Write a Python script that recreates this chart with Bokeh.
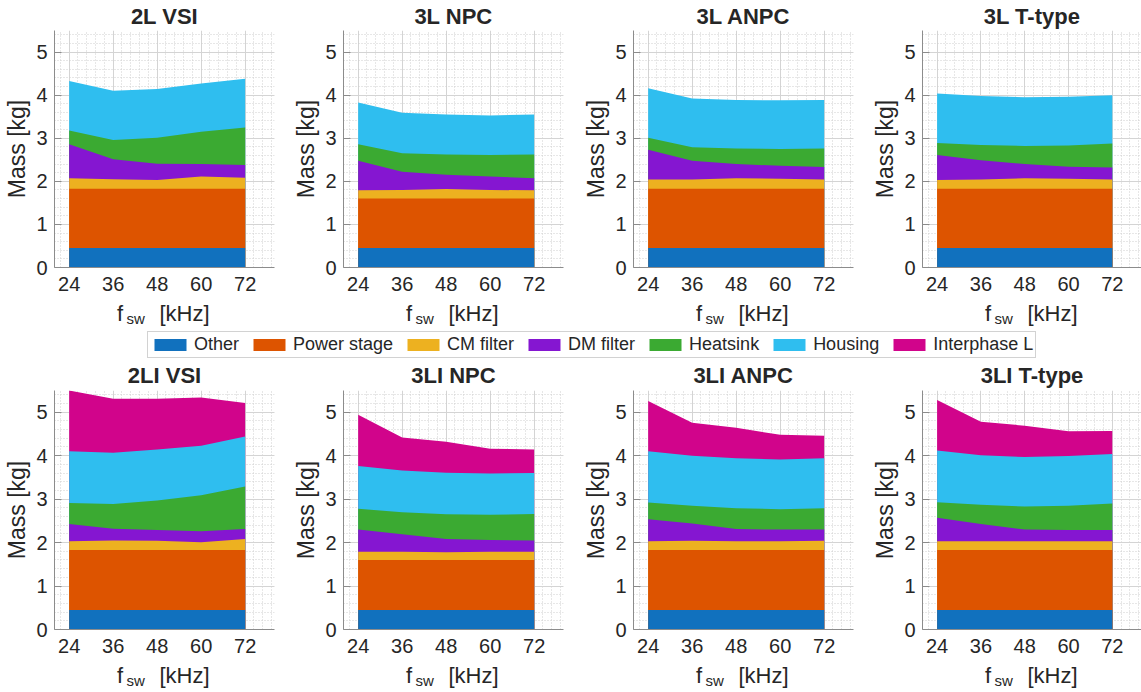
import numpy as np
from bokeh.plotting import figure
from bokeh.layouts import column, row
from bokeh.models import Range1d, FixedTicker, ColumnDataSource, Legend, LegendItem
from bokeh.transform import stack
from bokeh.core.properties import value
from bokeh.embed import file_html
from bokeh.resources import INLINE

# ---------------- data ----------------
fsw = [24, 36, 48, 60, 72]  # kHz
x_ticks = [24, 36, 48, 60, 72]
y_ticks = [0, 1, 2, 3, 4, 5]

keys = ["other", "power", "cm", "dm", "heatsink", "housing", "interphase"]
labels = ["Other", "Power stage", "CM filter", "DM filter", "Heatsink", "Housing", "Interphase L"]
colors = ["#1171BE", "#DD5400", "#EDB120", "#8516D1", "#3BAA32", "#2FBEEF", "#D1048B"]

m_2L_VSI = dict(
    other=[0.45, 0.45, 0.45, 0.45, 0.45],
    power=[1.38, 1.38, 1.38, 1.38, 1.38],
    cm=[0.24, 0.22, 0.20, 0.28, 0.25],
    dm=[0.79, 0.46, 0.38, 0.29, 0.30],
    heatsink=[0.32, 0.45, 0.60, 0.75, 0.87],
    housing=[1.15, 1.14, 1.13, 1.12, 1.13],
)
m_3L_NPC = dict(
    other=[0.45, 0.45, 0.45, 0.45, 0.45],
    power=[1.15, 1.15, 1.15, 1.15, 1.15],
    cm=[0.19, 0.20, 0.22, 0.20, 0.19],
    dm=[0.69, 0.42, 0.33, 0.31, 0.28],
    heatsink=[0.38, 0.43, 0.47, 0.50, 0.55],
    housing=[0.97, 0.94, 0.93, 0.92, 0.93],
)
m_3L_ANPC = dict(
    other=[0.45, 0.45, 0.45, 0.45, 0.45],
    power=[1.38, 1.38, 1.38, 1.38, 1.38],
    cm=[0.21, 0.21, 0.24, 0.23, 0.21],
    dm=[0.69, 0.44, 0.33, 0.30, 0.29],
    heatsink=[0.28, 0.31, 0.36, 0.39, 0.43],
    housing=[1.15, 1.13, 1.13, 1.13, 1.13],
)
m_3L_TT = dict(
    other=[0.45, 0.45, 0.45, 0.45, 0.45],
    power=[1.38, 1.38, 1.38, 1.38, 1.38],
    cm=[0.20, 0.21, 0.24, 0.23, 0.21],
    dm=[0.58, 0.45, 0.33, 0.28, 0.28],
    heatsink=[0.28, 0.35, 0.42, 0.49, 0.56],
    housing=[1.15, 1.14, 1.13, 1.13, 1.12],
)
m_2LI_VSI = dict(
    other=[0.45, 0.45, 0.45, 0.45, 0.45],
    power=[1.38, 1.38, 1.38, 1.38, 1.38],
    cm=[0.20, 0.22, 0.21, 0.18, 0.25],
    dm=[0.40, 0.27, 0.25, 0.25, 0.23],
    heatsink=[0.48, 0.57, 0.68, 0.83, 0.98],
    housing=[1.19, 1.18, 1.17, 1.14, 1.15],
    interphase=[1.40, 1.24, 1.17, 1.11, 0.77],
)
m_3LI_NPC = dict(
    other=[0.45, 0.45, 0.45, 0.45, 0.45],
    power=[1.15, 1.15, 1.15, 1.15, 1.15],
    cm=[0.19, 0.19, 0.18, 0.19, 0.19],
    dm=[0.51, 0.40, 0.30, 0.27, 0.26],
    heatsink=[0.48, 0.51, 0.57, 0.58, 0.61],
    housing=[0.98, 0.96, 0.96, 0.95, 0.94],
    interphase=[1.18, 0.76, 0.71, 0.57, 0.54],
)
m_3LI_ANPC = dict(
    other=[0.45, 0.45, 0.45, 0.45, 0.45],
    power=[1.38, 1.38, 1.38, 1.38, 1.38],
    cm=[0.20, 0.21, 0.20, 0.20, 0.21],
    dm=[0.51, 0.40, 0.28, 0.27, 0.26],
    heatsink=[0.38, 0.41, 0.48, 0.47, 0.49],
    housing=[1.18, 1.15, 1.15, 1.14, 1.15],
    interphase=[1.16, 0.76, 0.70, 0.57, 0.52],
)
m_3LI_TT = dict(
    other=[0.45, 0.45, 0.45, 0.45, 0.45],
    power=[1.38, 1.38, 1.38, 1.38, 1.38],
    cm=[0.20, 0.20, 0.20, 0.20, 0.20],
    dm=[0.54, 0.40, 0.27, 0.26, 0.26],
    heatsink=[0.36, 0.44, 0.53, 0.56, 0.61],
    housing=[1.19, 1.14, 1.14, 1.14, 1.14],
    interphase=[1.16, 0.77, 0.72, 0.57, 0.53],
)

top_titles = ["2L VSI", "3L NPC", "3L ANPC", "3L T-type"]
bot_titles = ["2LI VSI", "3LI NPC", "3LI ANPC", "3LI T-type"]
top_data = [m_2L_VSI, m_3L_NPC, m_3L_ANPC, m_3L_TT]
bot_data = [m_2LI_VSI, m_3LI_NPC, m_3LI_ANPC, m_3LI_TT]

# ---------------- style / layout ----------------
FONT = "Liberation Sans"
TXT = "#262626"
AXC = "#8c8c8c"
W = 1141
frame_widths = [220, 220, 220, 219]
rights = [15, 16, 15, 0]
LEFT = 54
fig_widths = [LEFT + fw + r for fw, r in zip(frame_widths, rights)]
fig_lefts = list(np.cumsum([0] + fig_widths[:-1]))
frame_lefts = [fl + LEFT for fl in fig_lefts]
frame_centers = [fl + fw / 2 for fl, fw in zip(frame_lefts, frame_widths)]
TICK_BORDER = 30
SH = 7  # text glyph baseline correction (px)


def make_panel(data, fw, right, fh):
    w = LEFT + fw + right
    p = figure(width=w, height=fh + TICK_BORDER, x_range=Range1d(20, 80), y_range=Range1d(0, 5.5),
               output_backend="svg", toolbar_location=None, tools="",
               min_border_left=LEFT, min_border_right=right,
               min_border_top=0, min_border_bottom=TICK_BORDER)
    p.outline_line_color = None
    p.background_fill_color = "white"
    p.border_fill_color = "white"

    src = ColumnDataSource(dict(x=fsw, **data))
    names = [k for k in keys if k in data]
    # draw from the top layer down so the stacked layers leave no seams
    for i in reversed(range(len(names))):
        p.varea(x="x", y1=0, y2=stack(*names[: i + 1]), source=src,
                fill_color=colors[keys.index(names[i])], fill_alpha=1.0)

    xt = FixedTicker(ticks=x_ticks, minor_ticks=list(np.round(np.arange(21.6, 80, 2.4), 2)))
    yt = FixedTicker(ticks=y_ticks, minor_ticks=list(np.round(np.arange(0, 5.6, 0.2), 2)))
    p.xaxis.ticker = xt
    p.yaxis.ticker = yt
    p.xgrid.ticker = xt
    p.ygrid.ticker = yt

    for g in (p.xgrid, p.ygrid):
        g.grid_line_color = "#d4d4d4"
        g.grid_line_width = 1
        g.minor_grid_line_color = "#cfcfcf"
        g.minor_grid_line_dash = "1 2"
        g.minor_grid_line_width = 1

    for ax in (p.xaxis, p.yaxis):
        ax.axis_line_color = AXC
        ax.major_tick_line_color = AXC
        ax.major_tick_out = 0
        ax.minor_tick_in = 0
        ax.minor_tick_out = 0
        ax.major_label_text_font = FONT
        ax.major_label_text_font_size = "20px"
        ax.major_label_text_color = TXT
    p.xaxis.major_label_standoff = 9
    p.yaxis.major_label_standoff = 7
    p.xaxis.major_tick_in = 0
    p.yaxis.major_tick_in = 7

    p.yaxis.axis_label = "Mass [kg]"
    p.yaxis.axis_label_text_font = FONT
    p.yaxis.axis_label_text_font_size = "23px"
    p.yaxis.axis_label_text_font_style = "normal"
    p.yaxis.axis_label_text_color = TXT
    p.yaxis.axis_label_standoff = 3
    return p


def strip(height):
    s = figure(width=W, height=height, x_range=Range1d(0, W), y_range=Range1d(0, height),
               output_backend="svg", toolbar_location=None, tools="",
               x_axis_location=None, y_axis_location=None, min_border=0)
    s.grid.visible = False
    s.outline_line_color = None
    s.background_fill_color = "white"
    s.border_fill_color = "white"
    return s


def add_titles(s, titles, baseline):
    s.text(x=frame_centers, y=[baseline + SH] * 4, text=titles,
           text_align="center", text_baseline="alphabetic",
           text_font=value(FONT), text_font_size=value("22px"),
           text_font_style="bold", text_color=TXT)


def add_xlabels(s, baseline):
    xs = [fl + 62.5 for fl in frame_lefts]
    s.text(x=xs, y=[baseline + SH] * 4, text=["f"] * 4, text_align="left",
           text_baseline="alphabetic",
           text_font=value(FONT), text_font_size=value("22px"), text_color=TXT)
    s.text(x=[x + 9.5 for x in xs], y=[baseline - 5 + SH] * 4, text=["sw"] * 4, text_align="left",
           text_baseline="alphabetic", text_font=value(FONT), text_font_size=value("15px"),
           text_color=TXT)
    s.text(x=[x + 42.5 for x in xs], y=[baseline + SH] * 4, text=["[kHz]"] * 4, text_align="left",
           text_baseline="alphabetic", text_font=value(FONT), text_font_size=value("22px"),
           text_color=TXT)


# strips: top titles (30) | row1 (237+30) | middle (93) | row2 (239+30) | bottom labels (33)
top_strip = strip(30)
add_titles(top_strip, top_titles, 7)

top_row = [make_panel(d, fw, r, 237) for d, fw, r in zip(top_data, frame_widths, rights)]

mid = strip(93)
add_xlabels(mid, 70)
add_titles(mid, bot_titles, 8)
items = []
for lab, c in zip(labels, colors):
    # legend swatch renderers: placed outside the visible range of the strip
    r = mid.varea(x=[-100, -90], y1=[0, 0], y2=[1, 1], fill_color=c, fill_alpha=1.0)
    items.append(LegendItem(label=lab, renderers=[r]))
leg = Legend(items=items, orientation="horizontal", location=(147, 32),
             glyph_width=40, glyph_height=15, label_standoff=4, spacing=10,
             padding=2, margin=0, label_height=16,
             label_text_font=FONT, label_text_font_size="18px", label_text_color=TXT,
             border_line_color="#a6a6a6", border_line_width=1,
             background_fill_color="white", background_fill_alpha=1.0)
mid.add_layout(leg)

bot_row = [make_panel(d, fw, r, 239) for d, fw, r in zip(bot_data, frame_widths, rights)]

bottom_strip = strip(33)
add_xlabels(bottom_strip, 10)

layout = column(top_strip, row(*top_row), mid, row(*bot_row), bottom_strip)

open("out.html", "w").write(file_html(layout, INLINE))
